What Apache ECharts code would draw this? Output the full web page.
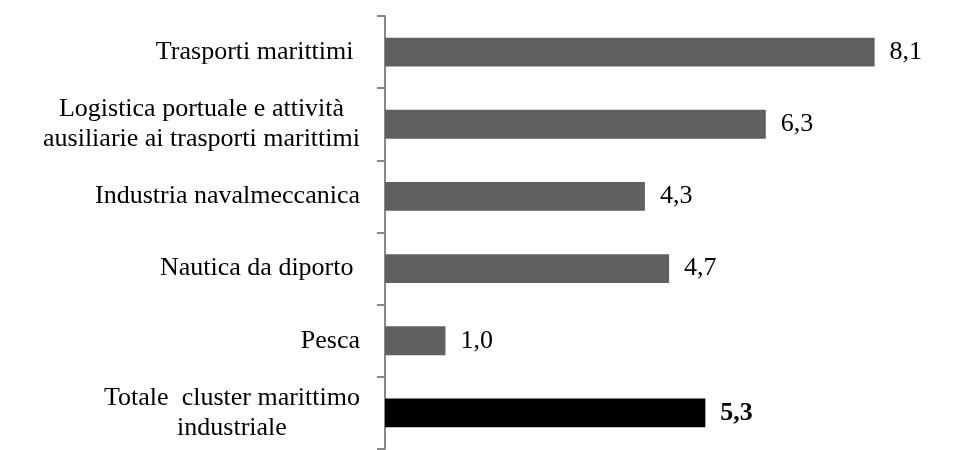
<!DOCTYPE html>
<html>
<head>
<meta charset="utf-8">
<script src="https://cdn.jsdelivr.net/npm/echarts@6/dist/echarts.min.js"></script>
<style>
  html, body { margin: 0; padding: 0; background: #fff; }
  #chart { width: 980px; height: 450px; }
</style>
</head>
<body>
<div id="chart"></div>
<script>
// categories, top to bottom
const categories = [
  "Trasporti marittimi ",
  "Logistica portuale e attività\nausiliarie ai trasporti marittimi",
  "Industria navalmeccanica",
  "Nautica da diporto ",
  "Pesca",
  "Totale  cluster marittimo\nindustriale",
];
const values = [8.1, 6.3, 4.3, 4.7, 1.0, 5.3];
const totalIndex = 5;

const FONT = "'Liberation Serif', 'DejaVu Serif', serif";
const FONT_SIZE = 26;

const chartDom = document.getElementById("chart");
const myChart = echarts.init(chartDom, null, { renderer: "canvas" });

const fmt = (v) => v.toFixed(1).replace(".", ",");

// measure text so multi-line labels can be centred inside their own block
const ctx = document.createElement("canvas").getContext("2d");
ctx.font = `${FONT_SIZE}px ${FONT}`;

function labelFormatter(value) {
  const lines = value.split("\n");
  if (lines.length === 1) return `{l|${value}}`;
  const w = Math.ceil(Math.max(...lines.map((s) => ctx.measureText(s).width)));
  return lines.map((s) => `{c${w}|${s}}`).join("\n");
}

// rich styles for the centred blocks
const rich = { l: { fontSize: FONT_SIZE, fontFamily: FONT, color: "#000" } };
categories.forEach((c) => {
  const lines = c.split("\n");
  if (lines.length > 1) {
    const w = Math.ceil(Math.max(...lines.map((s) => ctx.measureText(s).width)));
    rich[`c${w}`] = {
      width: w,
      align: "center",
      fontSize: FONT_SIZE,
      fontFamily: FONT,
      lineHeight: 30,
      color: "#000",
    };
  }
});

const option = {
  animation: false,
  grid: { left: 385, top: 16, width: 544, height: 433, containLabel: false },
  xAxis: {
    type: "value",
    min: 0,
    max: 9,
    show: false,
  },
  yAxis: {
    type: "category",
    inverse: true,
    data: categories,
    axisLine: { lineStyle: { color: "#888", width: 2 } },
    axisTick: { show: true, length: 8, lineStyle: { color: "#888", width: 2 } },
    axisLabel: {
      color: "#000",
      fontFamily: FONT,
      fontSize: FONT_SIZE,
      lineHeight: 30,
      margin: 25,
      align: "right",
      formatter: labelFormatter,
      rich,
    },
    splitLine: { show: false },
  },
  series: [
    {
      type: "bar",
      barWidth: "40%",
      data: values.map((v, i) => ({
        value: v,
        itemStyle: { color: i === totalIndex ? "#000" : "#606060" },
        label: {
          fontWeight: i === totalIndex ? "bold" : "normal",
        },
      })),
      label: {
        show: true,
        position: "right",
        distance: 15,
        color: "#000",
        fontFamily: FONT,
        fontSize: FONT_SIZE,
        formatter: ({ value }) => fmt(value),
      },
    },
  ],
};

myChart.setOption(option);
</script>
</body>
</html>
